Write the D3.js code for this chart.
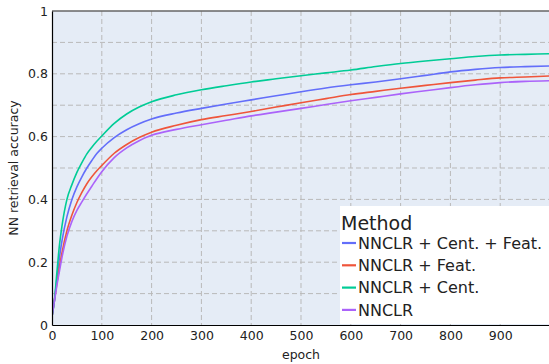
<!DOCTYPE html>
<html>
<head>
<meta charset="utf-8">
<script src="https://cdn.jsdelivr.net/npm/d3@7"></script>
<style>
  body { margin: 0; background: #fff; }
  text { font-family: "DejaVu Sans", Verdana, sans-serif; fill: #222; }
</style>
</head>
<body>
<div id="chart"></div>
<script>
const epochs = [0, 5, 10, 15, 20, 30, 40, 50, 60, 70, 80, 90, 100, 125, 150, 175, 200,
  250, 300, 350, 400, 450, 500, 550, 600, 650, 700, 750, 800, 850, 900, 950, 1000];

const centFeat = [0.027, 0.08, 0.15, 0.215, 0.268, 0.345, 0.40, 0.44, 0.472, 0.50, 0.524, 0.546, 0.563, 0.597, 0.622, 0.641, 0.656,
  0.675, 0.690, 0.704, 0.717, 0.730, 0.743, 0.755, 0.765, 0.774, 0.784, 0.795, 0.806, 0.814, 0.820, 0.823, 0.825];
const feat = [0.027, 0.08, 0.135, 0.185, 0.23, 0.30, 0.35, 0.39, 0.422, 0.45, 0.472, 0.491, 0.508, 0.547, 0.575, 0.597, 0.614,
  0.636, 0.654, 0.667, 0.680, 0.694, 0.708, 0.721, 0.734, 0.744, 0.754, 0.763, 0.772, 0.780, 0.787, 0.790, 0.793];
const cent = [0.027, 0.08, 0.17, 0.255, 0.315, 0.40, 0.447, 0.486, 0.517, 0.545, 0.566, 0.585, 0.602, 0.642, 0.672, 0.694, 0.711,
  0.733, 0.749, 0.762, 0.774, 0.784, 0.794, 0.803, 0.812, 0.823, 0.833, 0.841, 0.848, 0.855, 0.860, 0.862, 0.864];
const base = [0.027, 0.078, 0.128, 0.172, 0.215, 0.283, 0.33, 0.365, 0.392, 0.418, 0.442, 0.466, 0.488, 0.533, 0.564, 0.587, 0.604,
  0.623, 0.638, 0.652, 0.666, 0.678, 0.690, 0.702, 0.714, 0.725, 0.736, 0.746, 0.756, 0.765, 0.772, 0.776, 0.778];

const methods = ["NNCLR + Cent. + Feat.", "NNCLR + Feat.", "NNCLR + Cent.", "NNCLR"];
const seriesValues = [centFeat, feat, cent, base];
const colors = ["#636efa", "#ef553b", "#00cc96", "#ab63fa"];

const xTicks = [0, 100, 200, 300, 400, 500, 600, 700, 800, 900];
const yTicks = [0, 0.2, 0.4, 0.6, 0.8, 1];
const yGrid = [0.1, 0.2, 0.3, 0.4, 0.5, 0.6, 0.7, 0.8, 0.9];

const W = 549, H = 364;
const margin = {top: 11, right: -1, bottom: 39, left: 52};
const width = W - margin.left - margin.right;
const height = H - margin.top - margin.bottom;

const svg = d3.select("#chart").append("svg")
  .attr("width", W).attr("height", H);

const g = svg.append("g")
  .attr("transform", "translate(" + margin.left + "," + margin.top + ")");

const x = d3.scaleLinear().domain([0, 1000]).range([0, width]);
const y = d3.scaleLinear().domain([0, 1]).range([height, 0]);

// plot background
g.append("rect")
  .attr("width", width).attr("height", height)
  .attr("fill", "#e5ecf6");

// grid
g.selectAll(".hgrid").data(yGrid).enter().append("line")
  .attr("x1", 0).attr("x2", width)
  .attr("y1", d => y(d)).attr("y2", d => y(d))
  .attr("stroke", "#b9b9b9").attr("stroke-dasharray", "5,3");
g.selectAll(".vgrid").data(xTicks.slice(1)).enter().append("line")
  .attr("y1", 0).attr("y2", height)
  .attr("x1", d => x(d)).attr("x2", d => x(d))
  .attr("stroke", "#b9b9b9").attr("stroke-dasharray", "5,3");

// top border
g.append("line")
  .attr("x1", 0).attr("x2", width).attr("y1", 0).attr("y2", 0)
  .attr("stroke", "#666").attr("stroke-width", 1.5);

// lines
const line = d3.line()
  .x((d, i) => x(epochs[i]))
  .y(d => y(d))
  .curve(d3.curveMonotoneX);

g.append("clipPath").attr("id", "clip").append("rect")
  .attr("width", width).attr("height", height);

g.append("g").attr("clip-path", "url(#clip)")
  .selectAll("path").data(seriesValues).enter().append("path")
  .attr("d", line)
  .attr("fill", "none")
  .attr("stroke", (d, i) => colors[i])
  .attr("stroke-width", 1.6);

// axes
const xAxis = g.append("g")
  .attr("transform", "translate(0," + height + ")")
  .call(d3.axisBottom(x).tickValues(xTicks).tickSize(0).tickPadding(6));
const yAxis = g.append("g")
  .call(d3.axisLeft(y).tickValues(yTicks).tickSize(0).tickPadding(4)
    .tickFormat(d => d === 0 || d === 1 ? d3.format("d")(d) : d3.format(".1f")(d)));

[xAxis, yAxis].forEach(a => {
  a.select(".domain").attr("stroke", "#000").attr("stroke-width", 1.2);
  a.selectAll("text").attr("font-size", "12.5px")
    .attr("font-family", "DejaVu Sans, Verdana, sans-serif").attr("fill", "#222");
});

// axis titles
svg.append("text")
  .attr("x", margin.left + x(500)).attr("y", 359)
  .attr("text-anchor", "middle").attr("font-size", "12.5px")
  .text("epoch");
svg.append("text")
  .attr("transform", "translate(18," + (margin.top + height / 2) + ") rotate(-90)")
  .attr("text-anchor", "middle").attr("font-size", "12.5px")
  .text("NN retrieval accuracy");

// legend
const legend = svg.append("g");
legend.append("rect")
  .attr("x", 340).attr("y", 206).attr("width", 212).attr("height", 118)
  .attr("fill", "#fff");
legend.append("text")
  .attr("x", 341).attr("y", 230)
  .attr("font-size", "19px")
  .text("Method");
methods.forEach((m, i) => {
  const cy = 243 + i * 22.3;
  legend.append("line")
    .attr("x1", 342).attr("x2", 356).attr("y1", cy).attr("y2", cy)
    .attr("stroke", colors[i]).attr("stroke-width", 2.2);
  legend.append("text")
    .attr("x", 358).attr("y", cy + 5.8)
    .attr("font-size", "16px")
    .text(m);
});
</script>
</body>
</html>
